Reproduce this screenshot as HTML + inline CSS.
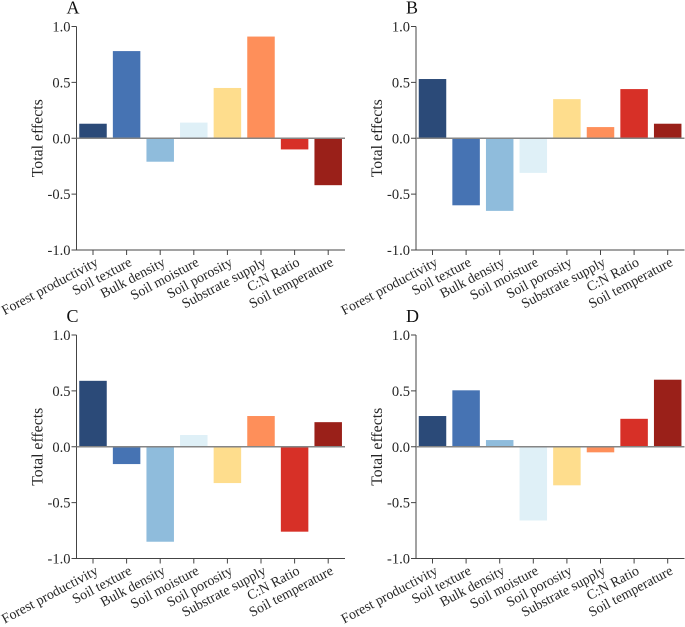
<!DOCTYPE html>
<html>
<head>
<meta charset="utf-8">
<style>
html,body{margin:0;padding:0;background:#fff;}
svg{display:block;font-family:"Liberation Serif",serif;fill:#262626;}
</style>
</head>
<body>
<svg id="chart" width="685" height="627" viewBox="0 0 685 627" xmlns="http://www.w3.org/2000/svg"></svg>
<script>
const categories = ["Forest productivity","Soil texture","Bulk density","Soil moisture","Soil porosity","Substrate supply","C:N Ratio","Soil temperature"];
const colors = ["#2b4a78","#4673b3","#8fbcdc","#dff0f7","#fedd8d","#fe8f5a","#d73027","#9a2019"];
const yTicks = [1.0,0.5,0.0,-0.5,-1.0];
const yTickLabels = ["1.0","0.5","0.0","-0.5","-1.0"];
const valuesA = [0.13,0.78,-0.21,0.14,0.45,0.91,-0.10,-0.42];
const valuesB = [0.53,-0.60,-0.65,-0.31,0.35,0.10,0.44,0.13];
const valuesC = [0.59,-0.155,-0.85,0.105,-0.325,0.275,-0.76,0.22];
const valuesD = [0.275,0.505,0.06,-0.66,-0.345,-0.05,0.25,0.60];
const panelNames = ["A","B","C","D"];
const panelValues = [valuesA,valuesB,valuesC,valuesD];

const NS = "http://www.w3.org/2000/svg";
const svg = document.getElementById("chart");

function add(parent, tag, attrs, text) {
  const el = document.createElementNS(NS, tag);
  for (const k in attrs) el.setAttribute(k, attrs[k]);
  if (text !== undefined) el.textContent = text;
  parent.appendChild(el);
  return el;
}

function drawPanel(name, values, left, top) {
  const right = left + 268.5;
  const plotH = 223.5;
  const yScale = v => top + (1 - v) / 2 * plotH;
  const xScale = i => left + 16.5 + i * 33.6;
  const barW = 27.5;

  const g = add(svg, "g", {});
  
  

  const title = add(g, "text", {x: left - 10, y: top - 13, "font-size": 18, fill: "#111"}, name);
  
  

  values.forEach((v, i) => {
    const y0 = yScale(0), y1 = yScale(v);
    const bar = add(g, "rect", {
      x: xScale(i) - barW / 2, y: Math.min(y0, y1),
      width: barW, height: Math.abs(y1 - y0), fill: colors[i]
    });
    
    
  });

  const yAxis = add(g, "line", {x1: left, x2: left, y1: top, y2: top + plotH, stroke: "#444", "stroke-width": 1});
  
  

  const xAxis = add(g, "line", {x1: left, x2: right, y1: top + plotH, y2: top + plotH, stroke: "#444", "stroke-width": 1});
  
  

  const zero = add(g, "line", {x1: left, x2: right, y1: yScale(0), y2: yScale(0), stroke: "#858585", "stroke-width": 1.6});
  
  

  yTicks.forEach((t, i) => {
    const y = yScale(t);
    const tick = add(g, "line", {x1: left - 5, x2: left, y1: y, y2: y, stroke: "#444", "stroke-width": 1});
    
    
    const label = add(g, "text", {x: left - 6, y: y + 5, "text-anchor": "end", "font-size": 14.5}, yTickLabels[i]);
    
    
  });

  const yTitleY = yScale(0);
  const yTitle = add(g, "text", {
    x: 0, y: 0, "text-anchor": "middle", "font-size": 15.8,
    transform: "translate(" + (left - 34) + "," + yTitleY + ") rotate(-90)"
  }, "Total effects");
  
  

  categories.forEach((c, i) => {
    const x = xScale(i);
    const tick = add(g, "line", {x1: x, x2: x, y1: top + plotH, y2: top + plotH + 5, stroke: "#444", "stroke-width": 1});
    
    
    const label = add(g, "text", {
      x: 0, y: 0, "text-anchor": "end", "font-size": 14,
      transform: "translate(" + (x + 6) + "," + (top + plotH + 15) + ") rotate(-28)"
    }, c);
    
    
  });
}

const panelLefts = [76.5, 416, 76.5, 416];
const panelTops = [26.5, 26.5, 335, 335];
panelNames.forEach((n, i) => drawPanel(n, panelValues[i], panelLefts[i], panelTops[i]));
</script>
</body>
</html>
